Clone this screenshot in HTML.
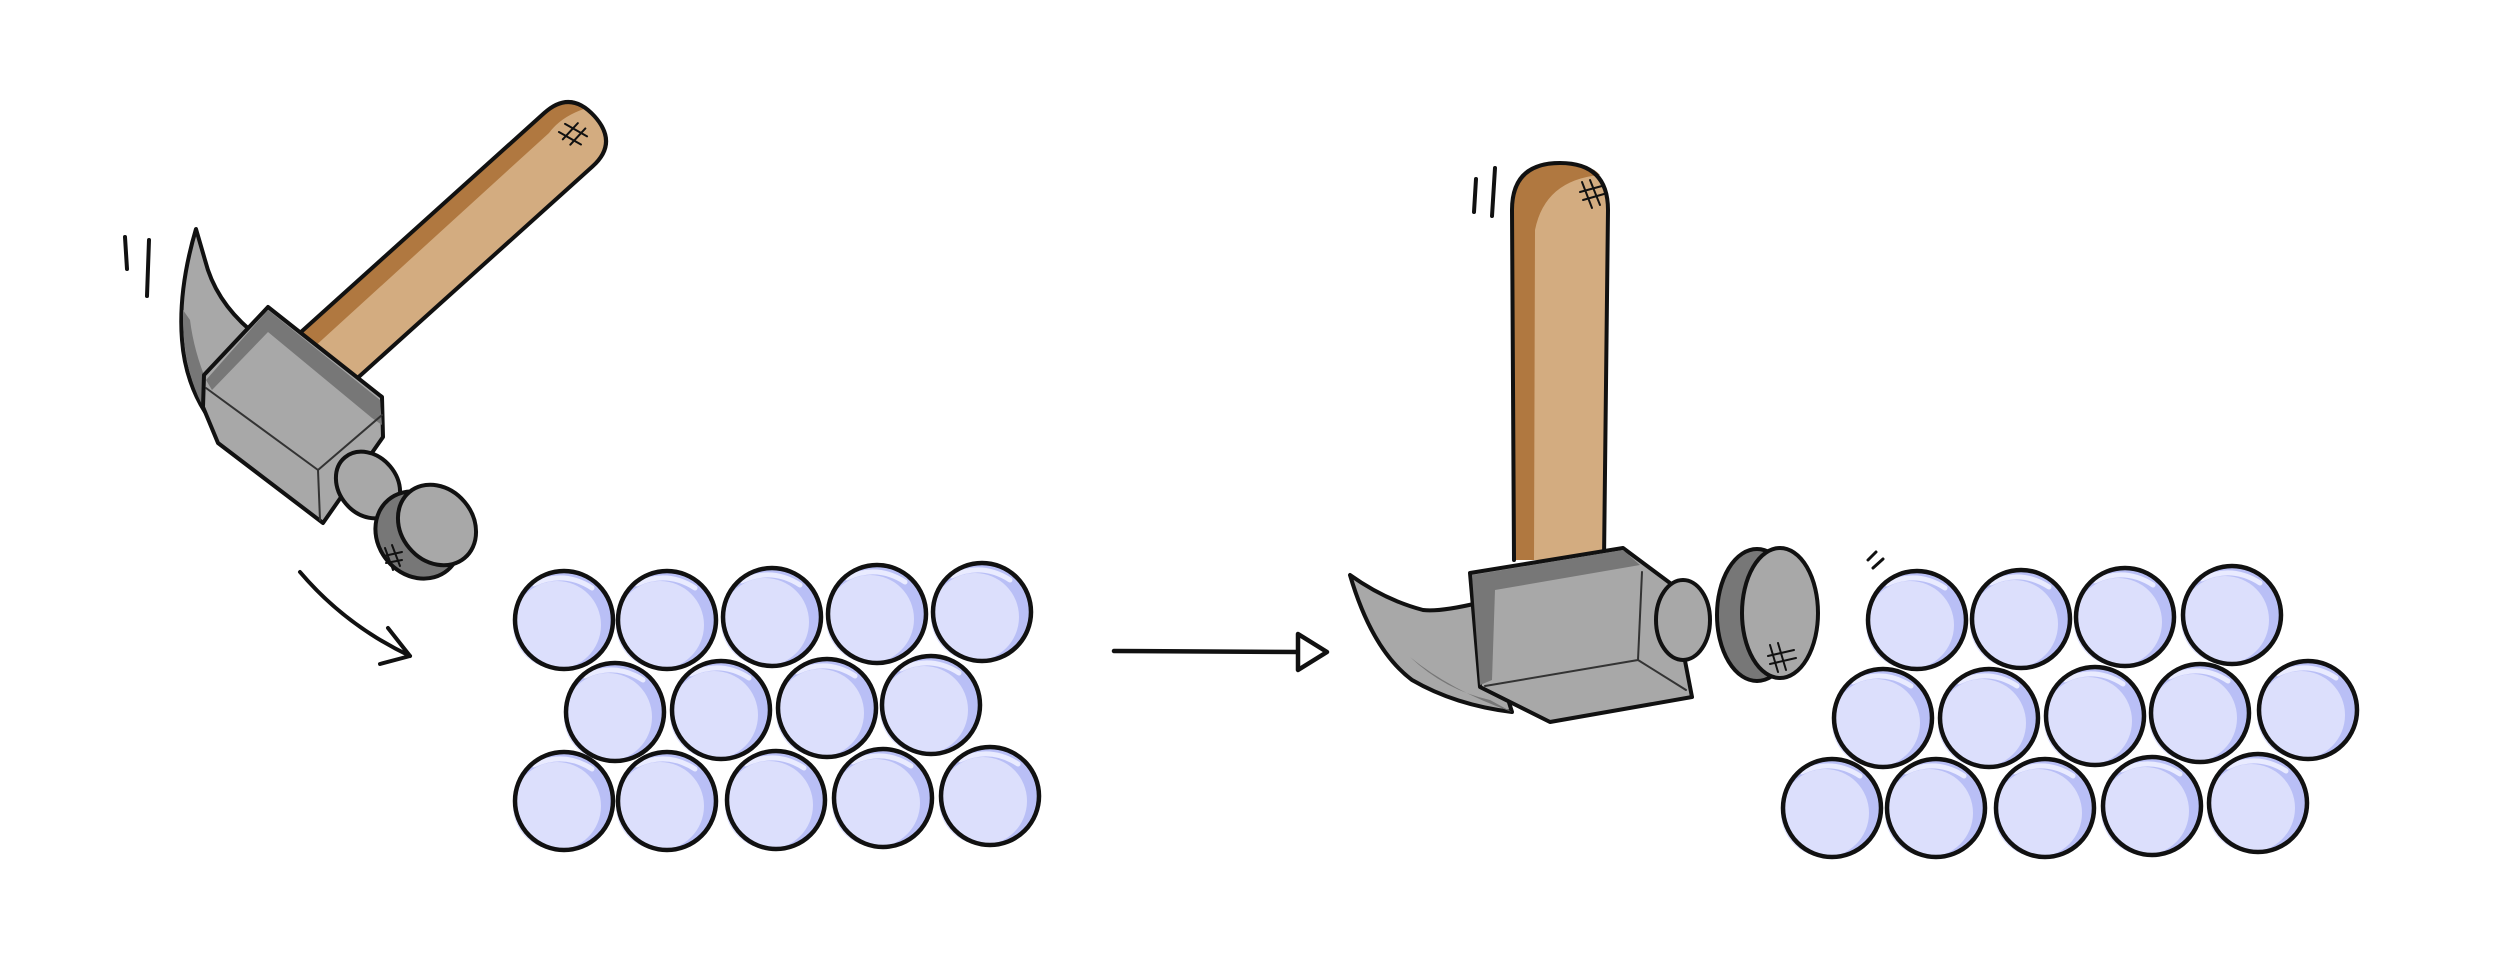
<!DOCTYPE html>
<html><head><meta charset="utf-8"><style>
html,body{margin:0;padding:0;background:#fff;}
svg{display:block;}
</style></head><body>
<svg width="2500" height="975" viewBox="0 0 2500 975" xmlns="http://www.w3.org/2000/svg">
<defs>
<g id="m">
<circle cx="0" cy="0" r="49" fill="#b9bff6"/>
<circle cx="-7" cy="5" r="44" fill="#dcdffc"/>
<path d="M-30,-36 Q0,-50 28,-32" stroke="#e9ebff" stroke-width="5" fill="none"/>
<circle cx="0" cy="0" r="49" fill="none" stroke="#111" stroke-width="4.5"/>
</g>
</defs>
<g stroke-linecap="round" stroke-linejoin="round">
<path d="M125,237 L127,269 M149,240 L147,296" stroke="#111" stroke-width="4" fill="none"/>
<path d="M1476,179 L1474,212 M1495,168 L1492,216" stroke="#111" stroke-width="4" fill="none"/>
<path d="M1868,560 L1876,552 M1873,568 L1883,559" stroke="#111" stroke-width="3" fill="none"/>

<!-- LEFT HAMMER handle -->
<g transform="translate(457,240) rotate(-42)">
<path d="M-190,-36 L150,-36 Q185,-36 185,0 Q185,36 150,36 L-190,36 Z" fill="#d3ac80" stroke="none"/>
<path d="M-190,-36 L150,-36 Q185,-36 183,-12 Q160,-22 140,-18 L-190,-16 Z" fill="#b07840"/>
<path d="M-190,-36 L150,-36 Q185,-36 185,0 Q185,36 150,36 L-190,36" fill="none" stroke="#111" stroke-width="4"/>
<path d="M148,-12 L156,12 M158,-14 L166,10 M146,-4 L168,-6 M148,5 L170,3" stroke="#111" stroke-width="2" fill="none"/>
</g>
<path d="M196,229 Q178,290 182,340 Q185,380 205,412 L250,330 Q215,300 205,260 Z" fill="#a8a8a8" stroke="#111" stroke-width="4"/>
<path d="M183,310 Q182,370 205,410 L215,400 Q195,360 190,320 Z" fill="#777"/>
<path d="M204,375 L268,307 L382,397 L383,437 L323,523 L218,443 L203,407 Z" fill="#a8a8a8" stroke="#111" stroke-width="4"/>
<path d="M206,380 L268,310 L380,400 L382,425 L372,418 L268,332 L212,390 Z" fill="#777"/>
<path d="M206,388 L318,470 L382,415 M318,470 L320,520" stroke="#333" stroke-width="2" fill="none"/>
<ellipse cx="368" cy="485" rx="29" ry="36" transform="rotate(-40 368 485)" fill="#a8a8a8" stroke="#111" stroke-width="4"/>
<ellipse cx="418" cy="535" rx="40" ry="46" transform="rotate(-40 418 535)" fill="#777" stroke="#111" stroke-width="4"/>
<ellipse cx="437" cy="525" rx="36" ry="43" transform="rotate(-40 437 525)" fill="#a8a8a8" stroke="#111" stroke-width="4"/>
<path d="M385,548 L393,570 M392,545 L400,566 M384,556 L402,552 M386,563 L402,560" stroke="#111" stroke-width="2" fill="none"/>

<path d="M300,572 Q345,625 410,656" stroke="#111" stroke-width="4" fill="none"/>
<path d="M388,628 L410,656 L380,664" stroke="#111" stroke-width="4" fill="none"/>

<use href="#m" x="564" y="620"/><use href="#m" x="667" y="620"/><use href="#m" x="772" y="617"/><use href="#m" x="877" y="614"/><use href="#m" x="982" y="612"/>
<use href="#m" x="615" y="712"/><use href="#m" x="721" y="710"/><use href="#m" x="827" y="708"/><use href="#m" x="931" y="705"/>
<use href="#m" x="564" y="801"/><use href="#m" x="667" y="801"/><use href="#m" x="776" y="800"/><use href="#m" x="883" y="798"/><use href="#m" x="990" y="796"/>

<path d="M1114,651 L1300,652" stroke="#111" stroke-width="4.5" fill="none"/>
<path d="M1298,634 L1327,652 L1298,670 Z" stroke="#111" stroke-width="4.5" fill="#fff"/>

<path d="M1514,560 L1512,210 Q1512,163 1560,163 Q1608,163 1608,210 L1604,560 Z" fill="#d3ac80"/>
<path d="M1514,560 L1512,210 Q1512,163 1560,163 Q1590,163 1600,175 Q1545,180 1535,230 L1534,560 Z" fill="#b07840"/>
<path d="M1514,560 L1512,210 Q1512,163 1560,163 Q1608,163 1608,210 L1604,560" fill="none" stroke="#111" stroke-width="4"/>
<path d="M1582,182 L1592,208 M1590,180 L1600,205 M1580,192 L1602,186 M1583,200 L1604,194" stroke="#111" stroke-width="2" fill="none"/>
<path d="M1350,575 Q1372,650 1412,680 Q1455,705 1512,712 L1478,603 Q1440,612 1423,610 Q1385,600 1350,575 Z" fill="#a8a8a8" stroke="#111" stroke-width="4"/>
<path d="M1410,657 Q1450,690 1512,712 L1490,700 Q1445,690 1410,657 Z" fill="#777"/>
<path d="M1470,573 L1623,548 L1670,583 L1692,697 L1550,722 L1480,687 Z" fill="#a8a8a8" stroke="#111" stroke-width="4"/>
<path d="M1472,575 L1623,550 L1640,565 L1495,590 L1492,680 L1480,685 Z" fill="#777"/>
<path d="M1485,686 L1638,660 L1686,690 M1638,660 L1642,572" stroke="#333" stroke-width="2" fill="none"/>
<ellipse cx="1683" cy="620" rx="27" ry="40" fill="#a8a8a8" stroke="#111" stroke-width="4"/>
<ellipse cx="1757" cy="615" rx="40" ry="66" fill="#777" stroke="#111" stroke-width="4"/>
<ellipse cx="1780" cy="613" rx="38" ry="65" fill="#a8a8a8" stroke="#111" stroke-width="4"/>
<path d="M1770,645 L1778,672 M1778,643 L1786,670 M1768,656 L1794,650 M1770,664 L1796,658" stroke="#111" stroke-width="2" fill="none"/>

<use href="#m" x="1917" y="620"/><use href="#m" x="2021" y="619"/><use href="#m" x="2125" y="617"/><use href="#m" x="2232" y="615"/>
<use href="#m" x="1883" y="718"/><use href="#m" x="1989" y="718"/><use href="#m" x="2095" y="716"/><use href="#m" x="2200" y="713"/><use href="#m" x="2308" y="710"/>
<use href="#m" x="1832" y="808"/><use href="#m" x="1936" y="808"/><use href="#m" x="2045" y="808"/><use href="#m" x="2152" y="806"/><use href="#m" x="2258" y="803"/>
</g>
</svg>
</body></html>
